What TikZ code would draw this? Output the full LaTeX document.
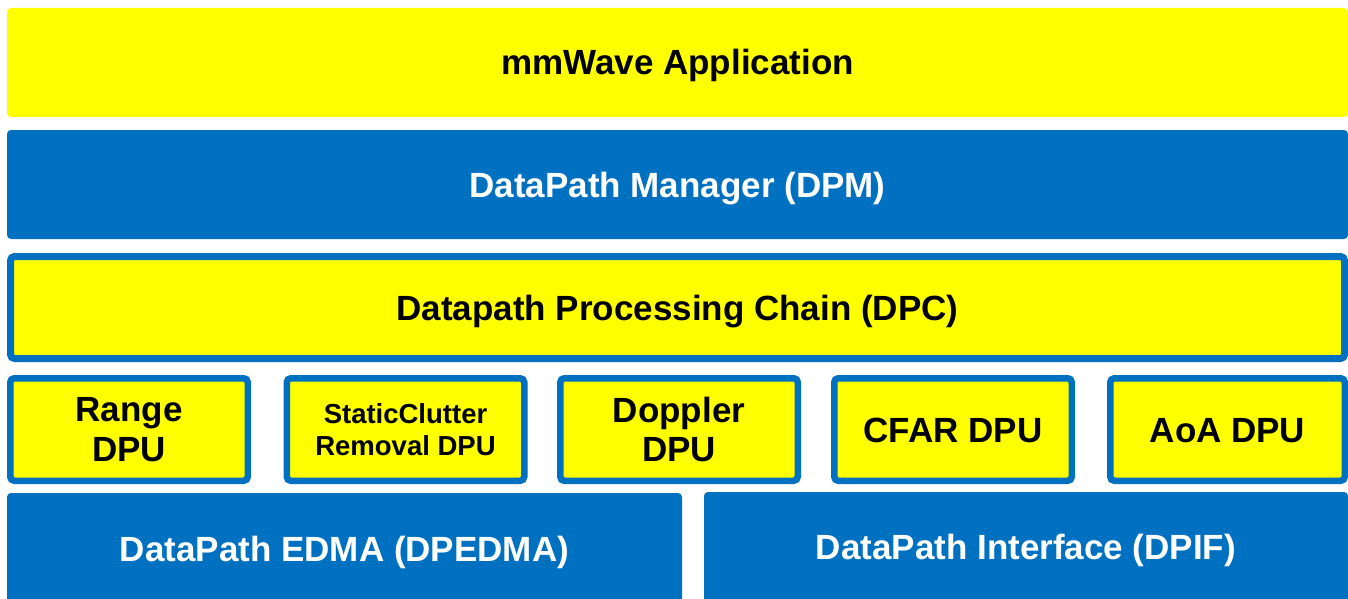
\documentclass[tikz,border=0pt]{standalone}
\usepackage{fontspec}
\setmainfont{Liberation Sans}
\definecolor{tiblue}{HTML}{0070C0}
\definecolor{tiyellow}{HTML}{FFFF00}
\begin{document}
\begin{tikzpicture}[x=1pt,y=-1pt,
  bigfont/.style={font=\bfseries\fontsize{35}{39.5}\selectfont},
  capcenter/.style={text height=25pt, text depth=0pt},
  layerblue/.style={fill=tiblue, text=white, rounded corners=4pt, inner sep=0pt, bigfont, capcenter},
  layeryellow/.style={fill=tiyellow, text=black, rounded corners=4pt, inner sep=0pt, bigfont, capcenter},
  framed/.style={layeryellow, draw=tiblue, line width=7pt},
  dpubox/.style={fill=tiyellow, draw=tiblue, line width=6.5pt, rounded corners=4pt, inner sep=0pt,
    minimum width=237.5pt, minimum height=102.5pt, align=center, text=black, bigfont}
]
\useasboundingbox (0,0) rectangle (1348,599);
\clip (0,0) rectangle (1348,599);

\node[layeryellow, minimum width=1341pt, minimum height=109pt] (app) at (677.5,62.5) {mmWave Application};
\node[layerblue, minimum width=1341pt, minimum height=109pt] (dpm) at (677.5,184.5) {DataPath Manager (DPM)};
\node[framed, minimum width=1334pt, minimum height=102pt] (dpc) at (677.5,307.5) {Datapath Processing Chain (DPC)};

\node[dpubox] (range) at (129,429.5) {Range\\DPU};
\node[dpubox, font=\bfseries\fontsize{27.5}{32.5}\selectfont] (scr) at (405.5,429.5) {StaticClutter\\Removal DPU};
\node[dpubox] (doppler) at (679,429.5) {Doppler\\DPU};
\node[dpubox, capcenter] (cfar) at (953,429.5) {CFAR DPU};
\node[dpubox, capcenter, minimum width=234.5pt] (aoa) at (1227.5,429.5) {AoA DPU};

\node[layerblue, minimum width=675pt, minimum height=112.4pt] (edma) at (344.5,549.2) {DataPath EDMA (DPEDMA)};
\node[layerblue, minimum width=644pt, minimum height=110.4pt] (dpif) at (1026,547.2) {DataPath Interface (DPIF)};
\end{tikzpicture}
\end{document}
